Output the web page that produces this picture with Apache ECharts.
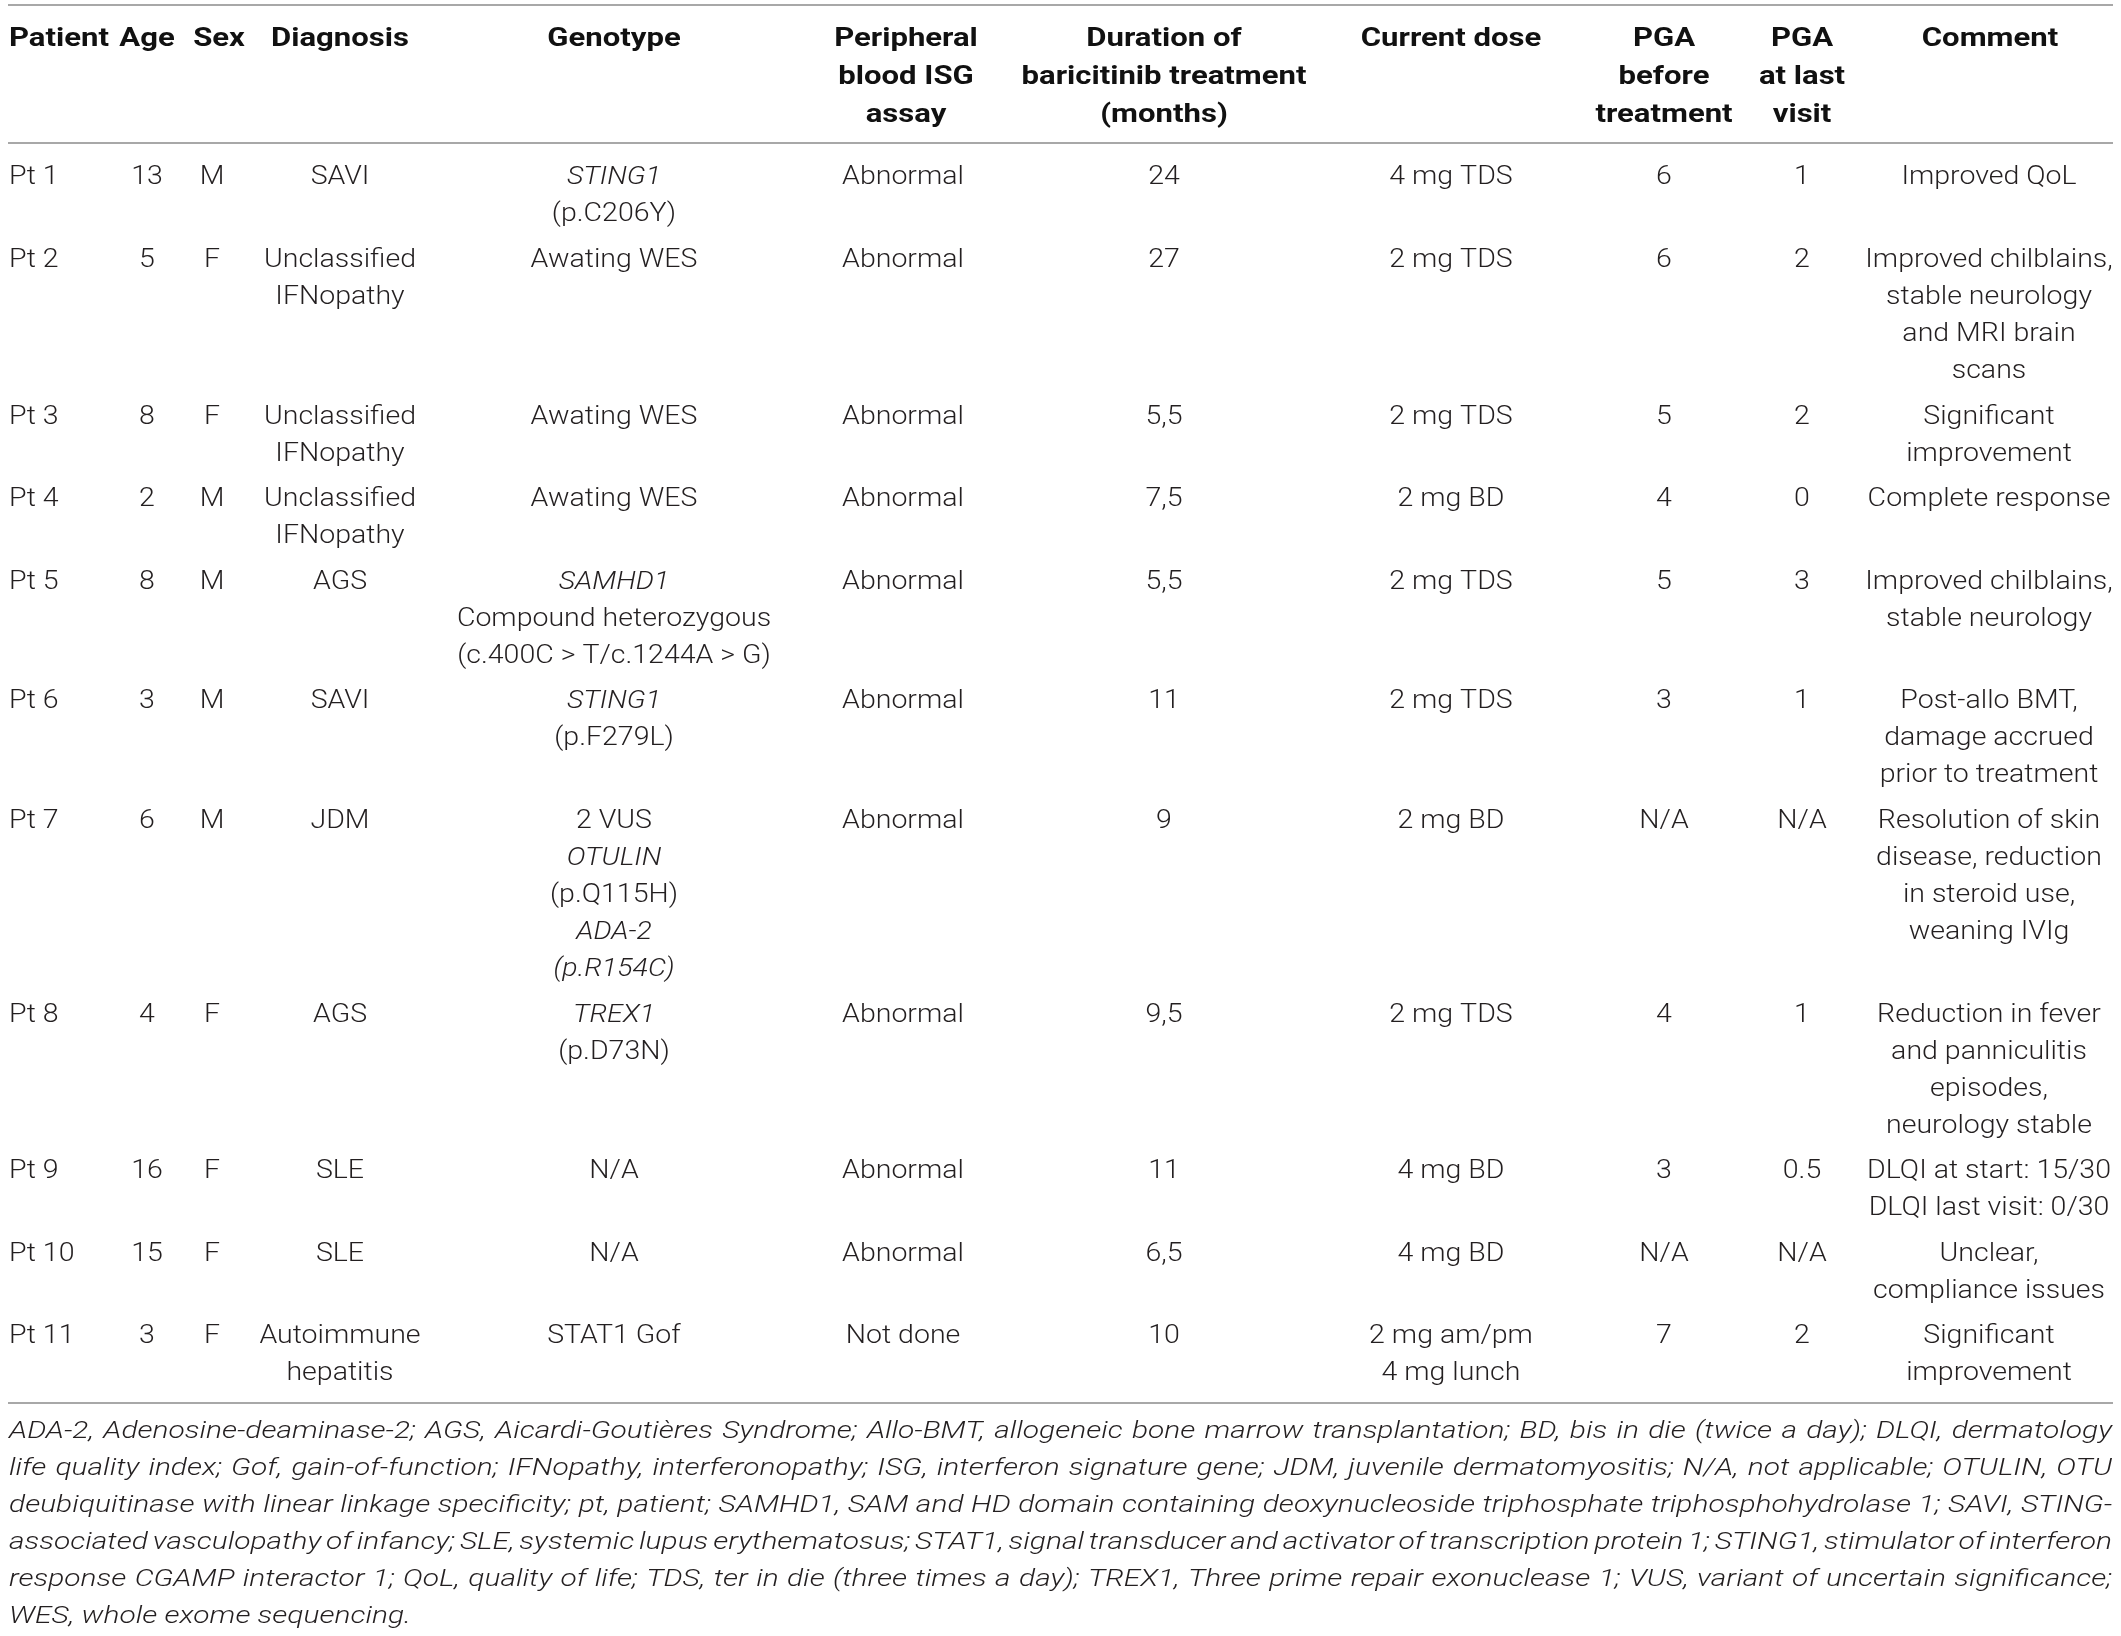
<!DOCTYPE html>
<html>

<head>
  <meta charset="utf-8" />
  <title>Baricitinib patients</title>
  <style>
    html, body {
      margin: 0;
      padding: 0;
      background-color: #ffffff;
    }
    #main {
      width: 2121px;
      height: 1636px;
    }
  </style>
  <script src="https://cdn.jsdelivr.net/npm/echarts@6.0.0/dist/echarts.min.js"></script>
</head>

<body>
  <div id="main"></div>
  <script type="text/javascript">
    // ---- table content ----
    var headers = ['Patient', 'Age', 'Sex', 'Diagnosis', 'Genotype', 'Peripheral\nblood ISG\nassay',
      'Duration of\nbaricitinib treatment\n(months)', 'Current dose', 'PGA\nbefore\ntreatment',
      'PGA\nat last\nvisit', 'Comment'];

    var patients = ['Pt 1', 'Pt 2', 'Pt 3', 'Pt 4', 'Pt 5', 'Pt 6', 'Pt 7', 'Pt 8', 'Pt 9', 'Pt 10', 'Pt 11'];
    var ages = ['13', '5', '8', '2', '8', '3', '6', '4', '16', '15', '3'];
    var sexes = ['M', 'F', 'F', 'M', 'M', 'M', 'M', 'F', 'F', 'F', 'F'];
    var diagnoses = ['SAVI', 'Unclassified\nIFNopathy', 'Unclassified\nIFNopathy', 'Unclassified\nIFNopathy',
      'AGS', 'SAVI', 'JDM', 'AGS', 'SLE', 'SLE', 'Autoimmune\nhepatitis'];
    var genotypes = ['STING1\n(p.C206Y)', 'Awating WES', 'Awating WES', 'Awating WES',
      'SAMHD1\nCompound heterozygous\n(c.400C > T/c.1244A > G)', 'STING1\n(p.F279L)',
      '2 VUS\nOTULIN\n(p.Q115H)\nADA-2\n(p.R154C)', 'TREX1\n(p.D73N)', 'N/A', 'N/A', 'STAT1 Gof'];
    var isgAssay = ['Abnormal', 'Abnormal', 'Abnormal', 'Abnormal', 'Abnormal', 'Abnormal',
      'Abnormal', 'Abnormal', 'Abnormal', 'Abnormal', 'Not done'];
    var durations = ['24', '27', '5,5', '7,5', '5,5', '11', '9', '9,5', '11', '6,5', '10'];
    var doses = ['4 mg TDS', '2 mg TDS', '2 mg TDS', '2 mg BD', '2 mg TDS', '2 mg TDS', '2 mg BD',
      '2 mg TDS', '4 mg BD', '4 mg BD', '2 mg am/pm\n4 mg lunch'];
    var pgaBefore = ['6', '6', '5', '4', '5', '3', 'N/A', '4', '3', 'N/A', '7'];
    var pgaLast = ['1', '2', '2', '0', '3', '1', 'N/A', '1', '0.5', 'N/A', '2'];
    var comments = ['Improved QoL', 'Improved chilblains,\nstable neurology\nand MRI brain\nscans',
      'Significant\nimprovement', 'Complete response', 'Improved chilblains,\nstable neurology',
      'Post-allo BMT,\ndamage accrued\nprior to treatment',
      'Resolution of skin\ndisease, reduction\nin steroid use,\nweaning IVIg',
      'Reduction in fever\nand panniculitis\nepisodes,\nneurology stable',
      'DLQI at start: 15/30\nDLQI last visit: 0/30', 'Unclear,\ncompliance issues',
      'Significant\nimprovement'];

    // gene names shown in italics
    var italicLines = ['STING1', 'SAMHD1', 'OTULIN', 'ADA-2', '(p.R154C)', 'TREX1'];

    var footnoteLines = [
      'ADA-2, Adenosine-deaminase-2; AGS, Aicardi-Goutières Syndrome; Allo-BMT, allogeneic bone marrow transplantation; BD, bis in die (twice a day); DLQI, dermatology',
      'life quality index; Gof, gain-of-function; IFNopathy, interferonopathy; ISG, interferon signature gene; JDM, juvenile dermatomyositis; N/A, not applicable; OTULIN, OTU',
      'deubiquitinase with linear linkage specificity; pt, patient; SAMHD1, SAM and HD domain containing deoxynucleoside triphosphate triphosphohydrolase 1; SAVI, STING-',
      'associated vasculopathy of infancy; SLE, systemic lupus erythematosus; STAT1, signal transducer and activator of transcription protein 1; STING1, stimulator of interferon',
      'response CGAMP interactor 1; QoL, quality of life; TDS, ter in die (three times a day); TREX1, Three prime repair exonuclease 1; VUS, variant of uncertain significance;',
      'WES, whole exome sequencing.'
    ];

    var columns = [patients, ages, sexes, diagnoses, genotypes, isgAssay, durations, doses, pgaBefore, pgaLast, comments];

    // ---- layout (pixels) ----
    var W = 2121, H = 1636;
    var colX = [9, 147, 212, 340, 614, 903, 1164, 1451, 1664, 1802, 1989];
    var headX = [9, 147, 219, 340, 614, 906, 1164, 1451, 1664, 1802, 1990];
    var ruleL = 8, ruleR = 2113;
    var ruleTop = 5, ruleHead = 143;
    var headFirst = 36.5, headLineH = 37.9;
    var bodyFirst = 174.5, lineH = 37.1, rowPad = 8.3;
    var ruleGap = 32.5, footGap = 25.5;
    var textDy = 3.5; // visual centre of glyphs sits below the em-box middle

    var fam = 'Roboto, "Liberation Sans", sans-serif';
    var bodyFont = { fontFamily: fam, fontSize: 25.5, fontWeight: 300 };
    var headFont = { fontFamily: fam, fontSize: 25.5, fontWeight: 'bold' };
    var footFont = { fontFamily: fam, fontSize: 23.5, fontWeight: 300, fontStyle: 'italic' };

    var measureCtx = document.createElement('canvas').getContext('2d');
    function cssFont(f, italic) {
      return ((italic || f.fontStyle === 'italic') ? 'italic ' : '') + f.fontWeight + ' ' + f.fontSize + 'px ' + f.fontFamily;
    }
    function textWidth(s, f, italic) {
      measureCtx.font = cssFont(f, italic);
      return measureCtx.measureText(s).width;
    }
    // horizontal stretch so text widths match the reference
    var bodyScale = 247.5 / textWidth('Improved chilblains,', bodyFont);
    var headScale = 180.5 / textWidth('Current dose', headFont);
    var footScale = 402 / textWidth('WES, whole exome sequencing.', footFont);

    // row positions from line counts
    var rowLines = patients.map(function (p, r) {
      return Math.max.apply(null, columns.map(function (col) { return col[r].split('\n').length; }));
    });
    var rowY = [];
    var yy = bodyFirst;
    rowLines.forEach(function (n) { rowY.push(yy); yy += n * lineH + rowPad; });
    var lastRow = rowLines.length - 1;
    var ruleBottom = rowY[lastRow] + (rowLines[lastRow] - 1) * lineH + ruleGap;
    var footFirst = ruleBottom + footGap;
    var ruleYs = [ruleTop, ruleHead, ruleBottom];

    // cells: [column, row] with row 0 = header
    var cellData = [];
    for (var r = 0; r <= patients.length; r++) {
      for (var c = 0; c < columns.length; c++) cellData.push([c, r]);
    }

    function renderCell(params, api) {
      var c = api.value(0), r = api.value(1);
      var isHead = r === 0;
      var text = isHead ? headers[c] : columns[c][r - 1];
      var x = isHead ? headX[c] : colX[c];
      var y0 = isHead ? headFirst : rowY[r - 1];
      var lh = isHead ? headLineH : lineH;
      var f = isHead ? headFont : bodyFont;
      var children = text.split('\n').map(function (ln, k) {
        var p = api.coord([x, y0 + k * lh + textDy]);
        var ital = !isHead && italicLines.indexOf(ln) >= 0;
        return {
          type: 'text',
          x: p[0],
          y: p[1],
          scaleX: isHead ? headScale : bodyScale,
          style: {
            text: ln,
            fill: isHead ? '#111111' : '#231f20',
            fontFamily: f.fontFamily,
            fontSize: f.fontSize,
            fontWeight: f.fontWeight,
            fontStyle: ital ? 'italic' : 'normal',
            align: c === 0 ? 'left' : 'center',
            verticalAlign: 'middle'
          }
        };
      });
      return { type: 'group', children: children };
    }

    function renderRule(params, api) {
      var y = ruleYs[api.value(0)];
      var a = api.coord([ruleL, y]), b = api.coord([ruleR, y]);
      return {
        type: 'line',
        shape: { x1: a[0], y1: a[1], x2: b[0], y2: b[1] },
        style: { stroke: '#a8a8a8', lineWidth: 2 }
      };
    }

    // footnote, justified except the last line
    function renderFoot(params, api) {
      var i = api.value(0);
      var y = footFirst + i * lineH + textDy;
      var words = footnoteLines[i].split(' ');
      var widths = words.map(function (w) { return textWidth(w, footFont) * footScale; });
      var total = widths.reduce(function (s, w) { return s + w; }, 0);
      var justify = i < footnoteLines.length - 1;
      var gap = justify ? (ruleR - ruleL - 2 - total) / (words.length - 1) : textWidth(' ', footFont) * footScale;
      var x = ruleL + 1;
      var children = words.map(function (w, k) {
        var p = api.coord([x, y]);
        x += widths[k] + gap;
        return {
          type: 'text',
          x: p[0],
          y: p[1],
          scaleX: footScale,
          style: {
            text: w,
            fill: '#231f20',
            fontFamily: footFont.fontFamily,
            fontSize: footFont.fontSize,
            fontWeight: footFont.fontWeight,
            fontStyle: 'italic',
            align: 'left',
            verticalAlign: 'middle'
          }
        };
      });
      return { type: 'group', children: children };
    }

    var myChart = echarts.init(document.getElementById('main'));
    var option = {
      animation: false,
      backgroundColor: '#ffffff',
      grid: { left: 0, right: 0, top: 0, bottom: 0 },
      xAxis: { type: 'value', min: 0, max: W, show: false },
      yAxis: { type: 'value', min: 0, max: H, inverse: true, show: false },
      series: [
        { type: 'custom', name: 'rules', renderItem: renderRule, data: ruleYs.map(function (v, k) { return [k, k]; }), silent: true },
        { type: 'custom', name: 'cells', renderItem: renderCell, data: cellData, silent: true },
        { type: 'custom', name: 'footnote', renderItem: renderFoot, data: footnoteLines.map(function (v, k) { return [k, k]; }), silent: true }
      ]
    };
    myChart.setOption(option);
  </script>
</body>

</html>
